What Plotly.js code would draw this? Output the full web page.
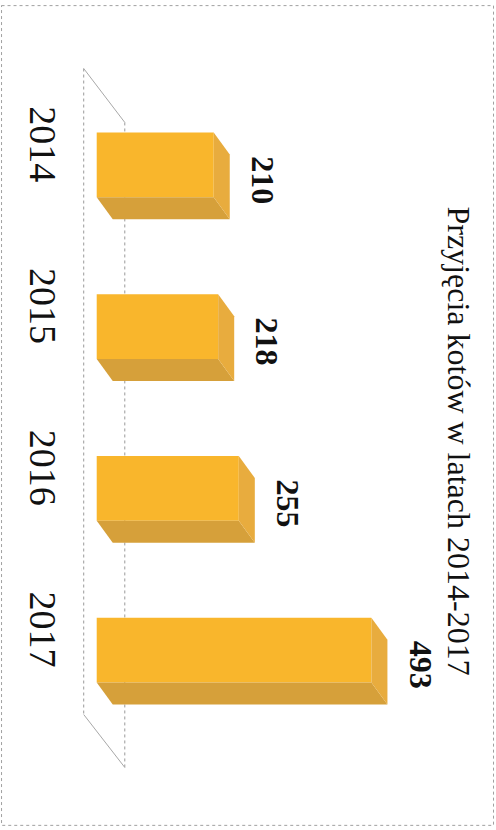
<!DOCTYPE html>
<html>
<head>
<meta charset="utf-8">
<script src="https://cdn.plot.ly/plotly-3.0.1.min.js"></script>
<style>html,body{margin:0;padding:0;background:#fff;}#chart{width:496px;height:830px;}</style>
</head>
<body>
<div id="chart"></div>
<script>
// ---- data ----
const years = ['2014', '2015', '2016', '2017'];
const values = [210, 218, 255, 493];
const chartTitle = 'Przyjęcia kotów w latach 2014-2017';

// ---- layout geometry ----
const W = 496, H = 830;
const xMin = -30, xMax = 600;
const L = 80.3, R = 65.4, T = 83.5, B = 98.5;
const plotW = W - L - R, plotH = H - T - B;
const kx = plotW / (xMax - xMin);      // px per unit
const ky = plotH / 4;                  // px per category
const barW = 0.4;
const dx = 16 / kx, dy = 22 / ky;      // 3D depth offset
const labelLift = 15 / ky;             // category labels sit a little above bar centre
const xp = px => (px - L) / plotW;
const yp = py => 1 - (py - T) / plotH;

const idx = years.map((_, i) => i);

const shapes = [];
// frame border
shapes.push({type: 'rect', xref: 'paper', yref: 'paper', x0: xp(2), x1: xp(493), y0: yp(5), y1: yp(826),
  line: {color: '#a0a0a0', width: 1, dash: 'dot'}, layer: 'below'});
// floor (3D base plane)
shapes.push({type: 'line', xref: 'paper', yref: 'paper', x0: xp(84), y0: yp(68), x1: xp(84), y1: yp(715),
  line: {color: '#9a9a9a', width: 1, dash: 'dot'}, layer: 'below'});
shapes.push({type: 'line', xref: 'paper', yref: 'paper', x0: xp(125), y0: yp(122), x1: xp(125), y1: yp(768),
  line: {color: '#9a9a9a', width: 1, dash: 'dot'}, layer: 'below'});
shapes.push({type: 'line', xref: 'paper', yref: 'paper', x0: xp(84), y0: yp(68), x1: xp(125), y1: yp(122),
  line: {color: '#a8a8a8', width: 1}, layer: 'below'});
shapes.push({type: 'line', xref: 'paper', yref: 'paper', x0: xp(84), y0: yp(715), x1: xp(125), y1: yp(768),
  line: {color: '#a8a8a8', width: 1}, layer: 'below'});

// 3D faces of each bar, from data
values.forEach((v, i) => {
  const a = i - barW / 2, b = i + barW / 2;
  // underside face
  shapes.push({type: 'path', xref: 'x', yref: 'y',
    path: `M0,${b} L${v},${b} L${v + dx},${b + dy} L${dx},${b + dy} Z`,
    fillcolor: '#D6A03A', line: {width: 0}, layer: 'above'});
  // end face
  shapes.push({type: 'path', xref: 'x', yref: 'y',
    path: `M${v},${a} L${v + dx},${a + dy} L${v + dx},${b + dy} L${v},${b} Z`,
    fillcolor: '#E8AC3E', line: {width: 0}, layer: 'above'});
});

const annotations = values.map((v, i) => ({
  x: v, y: i, xref: 'x', yref: 'y', text: '<b>' + v + '</b>', showarrow: false,
  textangle: 90, xshift: 49, yshift: -15,
  font: {family: 'Liberation Serif, Times New Roman, serif', size: 32, color: '#111'}
}));
annotations.push({
  x: xp(479), y: yp(441), xref: 'paper', yref: 'paper', text: chartTitle, showarrow: false,
  textangle: 90, font: {family: 'Liberation Serif, Times New Roman, serif', size: 32, color: '#111'}
});

const trace = {
  type: 'bar', orientation: 'h', x: values, y: idx, width: barW,
  marker: {color: '#F9B62C', line: {width: 0}},
  hoverinfo: 'skip'
};

const layout = {
  width: W, height: H,
  margin: {l: L, r: R, t: T, b: B, pad: 0},
  paper_bgcolor: '#fff', plot_bgcolor: 'rgba(0,0,0,0)',
  showlegend: false,
  xaxis: {range: [xMin, xMax], visible: false, fixedrange: true},
  yaxis: {range: [3.5, -0.5], tickvals: idx.map(i => i - labelLift), ticktext: years, tickangle: 90,
    showgrid: false, zeroline: false, showline: false, ticks: '', ticklabelstandoff: 11,
    tickfont: {family: 'Liberation Serif, Times New Roman, serif', size: 38, color: '#111'}},
  shapes: shapes,
  annotations: annotations
};

Plotly.newPlot('chart', [trace], layout, {displayModeBar: false, staticPlot: true});
</script>
</body>
</html>
